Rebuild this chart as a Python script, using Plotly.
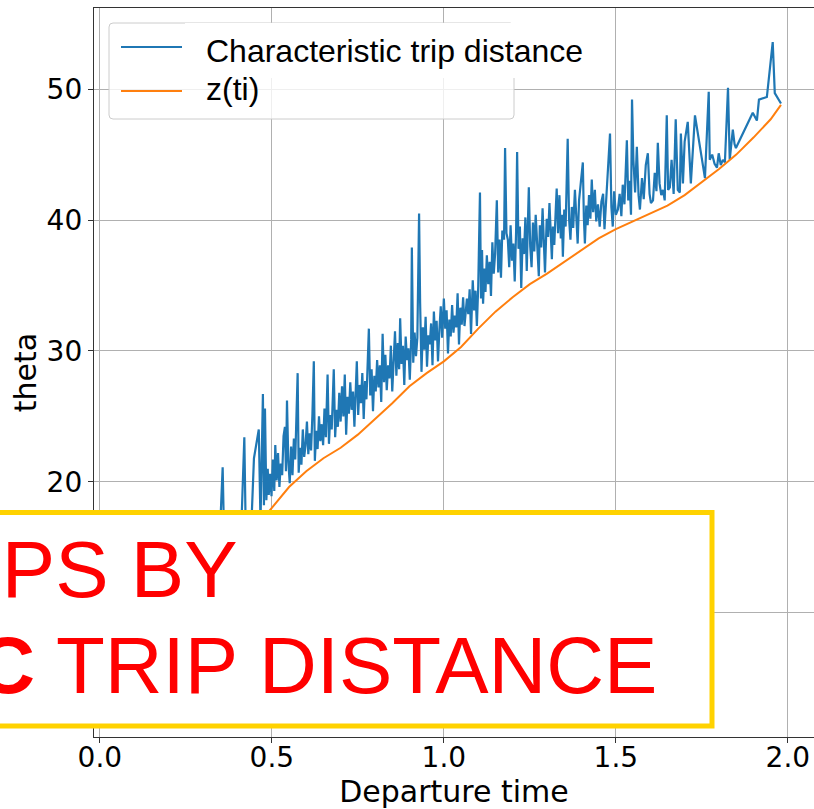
import plotly.graph_objects as go

# ---------------- data ----------------
x_tick_vals = [0.0, 0.5, 1.0, 1.5, 2.0]
x_tick_labels = ["0.0", "0.5", "1.0", "1.5", "2.0"]
y_tick_vals = [10, 20, 30, 40, 50]
y_tick_labels = ["10", "20", "30", "40", "50"]

# z(ti) curve
z_t = [0.078, 0.15, 0.20, 0.25, 0.30, 0.35, 0.40, 0.45, 0.50, 0.55, 0.60, 0.65, 0.70,
       0.75, 0.80, 0.85, 0.90, 0.95, 1.00, 1.05, 1.10, 1.15, 1.20, 1.25, 1.30, 1.35,
       1.40, 1.45, 1.50, 1.55, 1.60, 1.65, 1.70, 1.75, 1.80, 1.85, 1.90, 1.95, 1.98]
z_val = [3.0, 5.3, 7.0, 8.9, 10.9, 13.0, 14.9, 16.5, 18.0, 19.6, 20.8, 21.8, 22.6,
         23.6, 24.8, 26.0, 27.3, 28.3, 29.2, 30.3, 31.7, 33.0, 34.1, 35.1, 35.9, 36.8,
         37.7, 38.6, 39.3, 39.9, 40.5, 41.1, 41.9, 42.9, 43.9, 45.0, 46.3, 47.7, 48.8]

# characteristic trip distance (departure time, theta)
blue_t = [
    0.078, 0.085, 0.092, 0.100, 0.108, 0.116, 0.124, 0.132, 0.140, 0.148,
    0.156, 0.164, 0.172, 0.180, 0.188, 0.196, 0.204, 0.212, 0.220, 0.228,
    0.236, 0.244, 0.252, 0.260, 0.268, 0.276, 0.284, 0.292, 0.300, 0.308,
    0.316, 0.324, 0.332, 0.340, 0.348, 0.357, 0.362, 0.370, 0.378, 0.386,
    0.394, 0.402, 0.410, 0.420, 0.424, 0.432, 0.440, 0.448, 0.462, 0.467,
    0.474, 0.477, 0.480, 0.484, 0.488, 0.491, 0.495, 0.499, 0.503, 0.507,
    0.510, 0.514, 0.518, 0.522, 0.526, 0.530, 0.534, 0.538, 0.541, 0.544,
    0.548, 0.552, 0.556, 0.560, 0.564, 0.568, 0.572, 0.575, 0.578, 0.582,
    0.586, 0.590, 0.594, 0.598, 0.602, 0.606, 0.610, 0.614, 0.618, 0.622,
    0.625, 0.629, 0.633, 0.637, 0.641, 0.645, 0.649, 0.653, 0.657, 0.662,
    0.666, 0.670, 0.674, 0.678, 0.680, 0.684, 0.688, 0.692, 0.696, 0.700,
    0.704, 0.708, 0.712, 0.716, 0.720, 0.724, 0.728, 0.732, 0.736, 0.740,
    0.744, 0.747, 0.751, 0.755, 0.759, 0.763, 0.767, 0.771, 0.775, 0.779,
    0.782, 0.786, 0.790, 0.794, 0.798, 0.802, 0.806, 0.810, 0.814, 0.818,
    0.822, 0.826, 0.830, 0.834, 0.838, 0.842, 0.846, 0.850, 0.854, 0.858,
    0.862, 0.866, 0.870, 0.873, 0.877, 0.881, 0.885, 0.889, 0.893, 0.897,
    0.901, 0.905, 0.907, 0.911, 0.915, 0.919, 0.923, 0.928, 0.931, 0.935,
    0.939, 0.943, 0.947, 0.951, 0.955, 0.959, 0.963, 0.967, 0.971, 0.975,
    0.979, 0.983, 0.987, 0.991, 0.995, 1.000, 1.004, 1.008, 1.012, 1.016,
    1.020, 1.024, 1.028, 1.032, 1.036, 1.040, 1.044, 1.048, 1.052, 1.056,
    1.060, 1.064, 1.067, 1.071, 1.075, 1.079, 1.084, 1.088, 1.092, 1.096,
    1.100, 1.105, 1.108, 1.111, 1.114, 1.118, 1.121, 1.125, 1.129, 1.133,
    1.137, 1.141, 1.145, 1.149, 1.154, 1.158, 1.162, 1.166, 1.170, 1.175,
    1.178, 1.182, 1.186, 1.190, 1.194, 1.198, 1.202, 1.206, 1.210, 1.213,
    1.217, 1.221, 1.225, 1.229, 1.233, 1.237, 1.241, 1.244, 1.247, 1.251,
    1.255, 1.259, 1.263, 1.267, 1.271, 1.276, 1.279, 1.283, 1.287, 1.291,
    1.294, 1.299, 1.303, 1.307, 1.311, 1.314, 1.317, 1.321, 1.325, 1.328,
    1.332, 1.336, 1.340, 1.343, 1.346, 1.350, 1.354, 1.357, 1.360, 1.364,
    1.368, 1.372, 1.376, 1.381, 1.385, 1.389, 1.393, 1.398, 1.404, 1.407,
    1.410, 1.414, 1.418, 1.422, 1.426, 1.430, 1.434, 1.439, 1.443, 1.448,
    1.453, 1.458, 1.463, 1.467, 1.472, 1.477, 1.483, 1.487, 1.491, 1.495,
    1.500, 1.506, 1.511, 1.516, 1.520, 1.525, 1.528, 1.532, 1.536, 1.540,
    1.544, 1.547, 1.551, 1.556, 1.561, 1.566, 1.570, 1.576, 1.581, 1.587,
    1.593, 1.598, 1.602, 1.608, 1.613, 1.618, 1.622, 1.627, 1.632, 1.637,
    1.642, 1.648, 1.652, 1.657, 1.662, 1.668, 1.674, 1.680, 1.686, 1.689,
    1.695, 1.700, 1.709, 1.718, 1.730, 1.759, 1.770, 1.773, 1.780, 1.787,
    1.794, 1.799, 1.805, 1.811, 1.817, 1.826, 1.831, 1.840, 1.845, 1.849,
    1.898, 1.910, 1.916, 1.939, 1.956, 1.962, 1.980]
blue_theta = [
    3.3, 5.2, 4.1, 6.4, 4.7, 5.9, 7.6, 5.6, 7.0, 9.1,
    6.6, 8.3, 7.4, 9.8, 8.0, 10.6, 8.6, 11.2, 9.3, 10.4,
    12.3, 10.0, 12.9, 10.8, 13.6, 11.5, 14.3, 12.0, 13.1, 15.2,
    12.7, 14.6, 16.0, 13.8, 15.4, 21.1, 14.6, 16.4, 14.9, 16.8,
    15.3, 16.6, 15.6, 23.4, 16.3, 17.1, 16.4, 21.8, 24.0, 16.9,
    26.7, 18.2, 25.6, 18.6, 21.0, 19.0, 20.6, 18.9, 21.7, 19.3,
    22.8, 20.1, 22.2, 19.6, 21.4, 20.5, 23.5, 24.2, 20.8, 26.2,
    21.5, 19.9, 22.7, 20.5, 23.3, 21.7, 26.9, 28.3, 20.7, 22.6,
    21.3, 24.0, 21.9, 22.8, 24.6, 22.1, 23.7, 22.4, 25.2, 29.2,
    21.6, 23.9, 22.5, 25.0, 23.1, 24.4, 22.8, 25.6, 23.4, 28.2,
    22.9, 25.1, 24.0, 26.3, 28.6, 23.4, 25.5, 24.2, 26.8, 24.6,
    27.3, 25.0, 28.2, 23.6, 26.5, 25.2, 27.6, 25.5, 26.9, 24.2,
    27.8, 29.2, 25.1, 27.4, 26.0, 28.3, 24.8, 27.7, 26.3, 29.0,
    31.7, 26.6, 28.6, 25.4, 28.1, 26.9, 29.3, 27.2, 28.9, 26.1,
    31.3, 27.6, 29.7, 27.0, 28.9, 27.9, 30.4, 26.9, 29.4, 31.5,
    28.1, 30.6, 28.6, 32.5, 29.0, 30.4, 27.4, 31.1, 29.3, 30.2,
    27.8, 30.9, 37.9, 29.1, 31.4, 29.6, 31.0, 40.5, 33.7, 28.4,
    31.8, 30.1, 32.6, 28.8, 31.2, 30.5, 32.1, 28.9, 33.0, 30.8,
    32.3, 29.2, 31.6, 33.4, 31.0, 34.0, 31.7, 33.1, 29.8, 32.4,
    31.1, 33.5, 31.4, 32.7, 31.8, 34.4, 30.5, 33.3, 32.0, 34.1,
    31.9, 33.2, 34.0, 32.8, 34.7, 31.3, 35.4, 33.1, 34.6, 31.9,
    35.0, 42.1, 34.0, 37.7, 33.6, 36.3, 34.5, 37.3, 35.1, 36.8,
    34.2, 38.3, 35.9, 37.4, 41.5, 36.0, 38.5, 35.6, 39.2, 38.5,
    45.5, 39.0, 38.5, 36.4, 39.6, 36.9, 38.2, 35.3, 39.1, 45.2,
    37.8, 39.5, 34.8, 38.6, 37.4, 40.2, 36.1, 39.5, 42.5, 38.0,
    36.4, 39.8, 37.6, 40.4, 38.5, 35.7, 39.6, 37.9, 40.9, 38.2,
    36.0, 40.1, 38.7, 41.3, 38.4, 37.0, 39.5, 38.1, 40.6, 42.4,
    39.0, 41.9, 38.6, 40.4, 37.2, 40.8, 39.5, 42.0, 46.2, 40.1,
    38.5, 41.0, 39.4, 42.3, 39.8, 38.2, 41.5, 42.7, 44.4, 40.2,
    38.2, 41.1, 39.6, 41.9, 40.1, 43.1, 40.6, 42.3, 39.9, 41.2,
    39.5, 41.4, 42.0, 39.3, 41.8, 44.0, 46.6, 41.0, 39.5, 42.2,
    40.4, 40.8, 42.0, 40.3, 42.7, 41.2, 43.4, 46.1, 41.5, 43.0,
    40.4, 49.2, 44.6, 42.1, 45.6, 41.9, 40.8, 43.2, 41.6, 44.2,
    45.1, 42.0, 41.3, 41.5, 43.6, 42.2, 45.9, 42.8, 41.9, 42.3,
    41.5, 48.0, 42.3, 42.5, 44.6, 42.0, 47.7, 42.3, 42.1, 46.6,
    42.8, 46.0, 47.5, 42.8, 48.0, 43.2, 49.8, 44.6, 45.0, 44.3,
    44.0, 45.1, 44.2, 44.6, 44.4, 50.1, 44.6, 46.9, 45.8, 45.5,
    48.2, 47.6, 49.2, 49.4, 53.6, 49.7, 48.9]

legend_labels = ["Characteristic trip distance", "z(ti)"]
overlay_lines = ["TRIPS BY", "<b>CHARACTERISTIC</b> TRIP DISTANCE"]

BLUE = "#1f77b4"
ORANGE = "#ff7f0e"

# ---------------- layout helpers (pixel -> paper) ----------------
L, R, T, B = 94, 814, 8, 737
def X(px):
    return (px - L) / (R - L)
def Y(py):
    return (B - py) / (B - T)

fig = go.Figure()
fig.add_trace(go.Scatter(x=blue_t, y=blue_theta, mode="lines", name=legend_labels[0],
                         line=dict(color=BLUE, width=2.2), showlegend=False))
fig.add_trace(go.Scatter(x=z_t, y=z_val, mode="lines", name=legend_labels[1],
                         line=dict(color=ORANGE, width=2), showlegend=False))

tick_font = dict(family="DejaVu Sans", size=28, color="black")
title_font = dict(family="DejaVu Sans", size=30, color="black")

fig.update_layout(
    width=814, height=809,
    margin=dict(l=L, r=814 - R, t=T, b=809 - B),
    paper_bgcolor="white", plot_bgcolor="white",
    showlegend=False,
    xaxis=dict(range=[-0.017, 2.076], tickvals=x_tick_vals, ticktext=x_tick_labels,
               showgrid=True, gridcolor="#b0b0b0", gridwidth=1, zeroline=False,
               showline=True, linecolor="#333333", linewidth=1.3, mirror=True,
               ticks="outside", ticklen=5, tickwidth=1.3, tickcolor="#333333",
               tickfont=tick_font, automargin=False, ticklabelstandoff=-10,
               title=dict(text="Departure time", font=title_font, standoff=16)),
    yaxis=dict(range=[0.5, 56.2], tickvals=y_tick_vals, ticktext=y_tick_labels,
               showgrid=True, gridcolor="#b0b0b0", gridwidth=1, zeroline=False,
               showline=True, linecolor="#333333", linewidth=1.3, mirror=False,
               ticks="outside", ticklen=5, tickwidth=1.3, tickcolor="#333333",
               tickfont=tick_font, automargin=False,
               title=dict(text="theta", font=title_font, standoff=1)),
)

# rounded rectangle path helper (paper coords)
def rrect(x0, y0, x1, y1, r):
    rx, ry = r / (R - L), r / (B - T)
    a, b, c, d = X(x0), Y(y0), X(x1), Y(y1)  # b top (larger), d bottom
    return (f"M{a+rx},{b} L{c-rx},{b} Q{c},{b} {c},{b-ry} L{c},{d+ry} "
            f"Q{c},{d} {c-rx},{d} L{a+rx},{d} Q{a},{d} {a},{d+ry} L{a},{b-ry} Q{a},{b} {a+rx},{b} Z")

shapes = [
    # legend frame
    dict(type="path", xref="paper", yref="paper", layer="above",
         path=rrect(109, 23, 514, 119, 4),
         fillcolor="rgba(255,255,255,0.8)", line=dict(color="#cccccc", width=1)),
    # white background behind first legend text
    dict(type="rect", xref="paper", yref="paper", layer="above",
         x0=X(185), x1=X(595), y0=Y(78), y1=Y(23),
         fillcolor="white", line=dict(width=0)),
    # legend handles
    dict(type="line", xref="paper", yref="paper", layer="above",
         x0=X(121), x1=X(182), y0=Y(47), y1=Y(47), line=dict(color=BLUE, width=2)),
    dict(type="line", xref="paper", yref="paper", layer="above",
         x0=X(121), x1=X(182), y0=Y(91), y1=Y(91), line=dict(color=ORANGE, width=2)),
    # overlay banner
    dict(type="rect", xref="paper", yref="paper", layer="above",
         x0=X(-40), x1=X(712), y0=Y(726), y1=Y(512.5),
         fillcolor="white", line=dict(color="#FFD200", width=5)),
]
fig.update_layout(shapes=shapes)

leg_font = dict(family="Liberation Sans, Arial", size=32, color="black")
ov_font = dict(family="Liberation Sans, Arial", size=80, color="#FF0000")
annotations = [
    dict(text=legend_labels[0], xref="paper", yref="paper", x=X(204), y=Y(51),
         xanchor="left", yanchor="middle", showarrow=False, font=leg_font),
    dict(text=legend_labels[1], xref="paper", yref="paper", x=X(204), y=Y(89),
         xanchor="left", yanchor="middle", showarrow=False, font=leg_font),
    dict(text=overlay_lines[0], xref="paper", yref="paper", x=X(240), y=Y(569),
         xanchor="right", yanchor="middle", showarrow=False, font=ov_font),
    dict(text=overlay_lines[1], xref="paper", yref="paper", x=X(659), y=Y(665),
         xanchor="right", yanchor="middle", showarrow=False, font=ov_font),
]
fig.update_layout(annotations=annotations)

fig.write_html("out.html")
